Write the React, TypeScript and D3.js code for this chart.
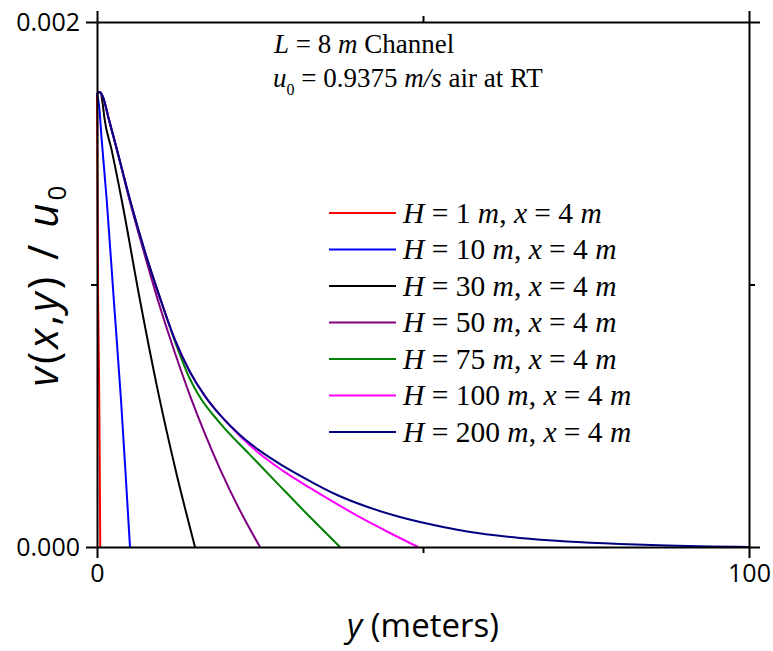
import React, { useRef, useEffect } from 'react';
import * as d3 from 'd3';

// channel heights and line colours, in legend order
const heights = [1, 10, 30, 50, 75, 100, 200];
const colors = ['#ff0000', '#0000ff', '#000000', '#800080', '#008000', '#ff00ff', '#000080'];

// y (m) and v(x,y)/u0 for each H
const yH1 = [0, 0.17, 0.35, 0.5];
const vH1 = [0.001726, 0.00095, 0.00056, 0];

const yH10 = [0, 0.31, 0.72, 1.49, 2.61, 3.68, 4.37, 5.06];
const vH10 = [0.001726, 0.001684, 0.001551, 0.001322, 0.00093, 0.00056, 0.000286, 0];

const yH30 = [0, 0.46, 0.84, 1.12, 2.25, 3.79, 6.6, 9.36, 12.12, 15.03];
const vH30 = [0.001726, 0.001733, 0.001695, 0.001638, 0.001512, 0.001322, 0.000939, 0.000592, 0.000287, 0];

const yH50 = [0, 0.46, 1.07, 1.69, 3.07, 5.06, 7.36, 9.66, 11.96, 14.26, 16.56, 18.87, 21.93, 25];
const vH50 = [0.001726, 0.001733, 0.001703, 0.001642, 0.001512, 0.001314, 0.001109, 0.000914, 0.000739, 0.000577, 0.000431, 0.000297, 0.000139, 0];

const yH75 = [0, 0.46, 1.07, 1.69, 3.07, 5.06, 7.36, 9.66, 11.96, 14.26, 15.49, 18.87, 23.47, 28.07, 32.67, 37.27];
const vH75 = [0.001726, 0.001733, 0.001703, 0.001642, 0.001512, 0.001322, 0.001124, 0.000949, 0.000783, 0.00064, 0.000583, 0.000472, 0.000351, 0.000232, 0.000114, 0];

const yH100 = [0, 0.46, 1.07, 1.69, 3.07, 5.06, 7.36, 9.66, 11.96, 14.26, 16.56, 18.87, 21.93, 25, 28.53, 32.67, 36.5, 41.1, 44.94, 49.23];
const vH100 = [0.001726, 0.001733, 0.001703, 0.001642, 0.001512, 0.001322, 0.001124, 0.000949, 0.000789, 0.000667, 0.000575, 0.000503, 0.000423, 0.000354, 0.00029, 0.000225, 0.000168, 0.000103, 0.0000533, 0];

const yH200 = [0, 0.46, 1.07, 1.69, 3.07, 5.06, 7.36, 9.66, 11.96, 14.26, 16.56, 18.87, 21.93, 25, 28.53, 32.67, 36.5, 41.1, 46.47, 53.07, 56.75, 64.88, 72.09, 80.21, 87.42, 94.02, 100];
const vH200 = [0.001726, 0.001733, 0.001703, 0.001642, 0.001512, 0.001322, 0.001124, 0.000949, 0.000789, 0.000667, 0.000575, 0.000503, 0.000427, 0.000366, 0.000309, 0.000251, 0.000202, 0.000156, 0.000114, 0.0000762, 0.000059, 0.0000343, 0.000021, 0.0000114, 0.0000057, 0.0000019, 0];

const seriesY = [yH1, yH10, yH30, yH50, yH75, yH100, yH200];
const seriesV = [vH1, vH10, vH30, vH50, vH75, vH100, vH200];

const xMajor = [0, 100];
const xMinor = [50];
const yMajor = [0, 0.002];
const yMinor = [0.001];

function App() {
  const svgRef = useRef(null);

  useEffect(() => {
    const svg = d3.select(svgRef.current);
    svg.selectAll('*').remove();

    const left = 97;
    const right = 749;
    const top = 22;
    const bottom = 547;

    const xScale = d3.scaleLinear().domain([0, 100]).range([left, right]);
    const yScale = d3.scaleLinear().domain([0, 0.002]).range([bottom, top]);

    // curves, navy drawn last so it sits on top
    const lineGen = d3
      .line<number[]>()
      .x((d) => xScale(d[0]))
      .y((d) => yScale(d[1]))
      .curve(d3.curveMonotoneX);

    const plot = svg.append('g');
    seriesY.forEach((ys, i) => {
      const pts = ys.map((y, j) => [y, seriesV[i][j]]);
      plot
        .append('path')
        .attr('d', lineGen(pts))
        .attr('fill', 'none')
        .attr('stroke', colors[i])
        .attr('stroke-width', 2);
    });

    // axes on all four sides, ticks outward
    const styleAxis = (g) => {
      g.selectAll('path').attr('stroke-width', 2);
      g.selectAll('line').attr('stroke-width', 2);
      g.attr('font-family', '"Open Sans", sans-serif').attr('font-size', 25).attr('fill', '#000');
    };

    const addAxis = (axisFn, scale, transform, major, minor, fmt) => {
      const gMinor = svg.append('g').attr('transform', transform);
      gMinor.call(axisFn(scale).tickValues(minor).tickSize(6).tickSizeOuter(0).tickFormat(() => ''));
      gMinor.select('.domain').remove();
      styleAxis(gMinor);
      const g = svg.append('g').attr('transform', transform);
      g.call(axisFn(scale).tickValues(major).tickSize(11).tickSizeOuter(0).tickPadding(6).tickFormat(fmt));
      styleAxis(g);
      return g;
    };

    addAxis(d3.axisBottom, xScale, `translate(0,${bottom})`, xMajor, xMinor, d3.format('d'));
    addAxis(d3.axisTop, xScale, `translate(0,${top})`, xMajor, xMinor, () => '');
    addAxis(d3.axisLeft, yScale, `translate(${left},0)`, yMajor, yMinor, d3.format('.3f'));
    addAxis(d3.axisRight, yScale, `translate(${right},0)`, yMajor, yMinor, () => '');

    // axis titles
    const xt = svg
      .append('text')
      .attr('x', (left + right) / 2)
      .attr('y', 637)
      .attr('text-anchor', 'middle')
      .attr('font-family', '"Open Sans", sans-serif')
      .attr('font-size', 33);
    xt.append('tspan').attr('font-style', 'italic').text('y');
    xt.append('tspan').text(' (meters)');

    const yt = svg
      .append('text')
      .attr('transform', `translate(58,${(top + bottom) / 2}) rotate(-90)`)
      .attr('text-anchor', 'middle')
      .attr('font-family', '"Open Sans", sans-serif')
      .attr('font-size', 42)
      .attr('letter-spacing', 3);
    yt.append('tspan').attr('font-style', 'italic').text('v');
    yt.append('tspan').text('(');
    yt.append('tspan').attr('font-style', 'italic').text('x');
    yt.append('tspan').text(',');
    yt.append('tspan').attr('font-style', 'italic').text('y');
    yt.append('tspan').text(') / ');
    yt.append('tspan').attr('font-style', 'italic').text('u');
    yt.append('tspan').attr('font-size', 26).attr('dy', 8).text('0');

    // annotation
    const serif = '"Liberation Serif", "Times New Roman", serif';
    const a1 = svg
      .append('text')
      .attr('x', 274)
      .attr('y', 53)
      .attr('font-family', serif)
      .attr('font-size', 27);
    a1.append('tspan').attr('font-style', 'italic').text('L');
    a1.append('tspan').text(' = 8 ');
    a1.append('tspan').attr('font-style', 'italic').text('m');
    a1.append('tspan').text(' Channel');

    const a2 = svg
      .append('text')
      .attr('x', 273)
      .attr('y', 87)
      .attr('font-family', serif)
      .attr('font-size', 27);
    a2.append('tspan').attr('font-style', 'italic').text('u');
    a2.append('tspan').attr('font-size', 16).attr('dy', 8).text('0');
    a2.append('tspan').attr('dy', -8).text(' = 0.9375 ');
    a2.append('tspan').attr('font-style', 'italic').text('m/s');
    a2.append('tspan').text(' air at RT');

    // legend
    const legend = svg.append('g');
    heights.forEach((h, i) => {
      const ly = 213 + i * 36.5;
      legend
        .append('line')
        .attr('x1', 329)
        .attr('x2', 396)
        .attr('y1', ly)
        .attr('y2', ly)
        .attr('stroke', colors[i])
        .attr('stroke-width', 2);
      const t = legend
        .append('text')
        .attr('x', 403)
        .attr('y', ly + 9.5)
        .attr('font-family', serif)
        .attr('font-size', 29.5);
      t.append('tspan').attr('font-style', 'italic').text('H');
      t.append('tspan').text(` = ${h} `);
      t.append('tspan').attr('font-style', 'italic').text('m');
      t.append('tspan').text(', ');
      t.append('tspan').attr('font-style', 'italic').text('x');
      t.append('tspan').text(' = 4 ');
      t.append('tspan').attr('font-style', 'italic').text('m');
    });
  }, []);

  return (
    <svg
      ref={svgRef}
      width={773}
      height={651}
      style={{ position: 'absolute', left: 0, top: 0, background: '#fff' }}
    />
  );
}

export default App;
